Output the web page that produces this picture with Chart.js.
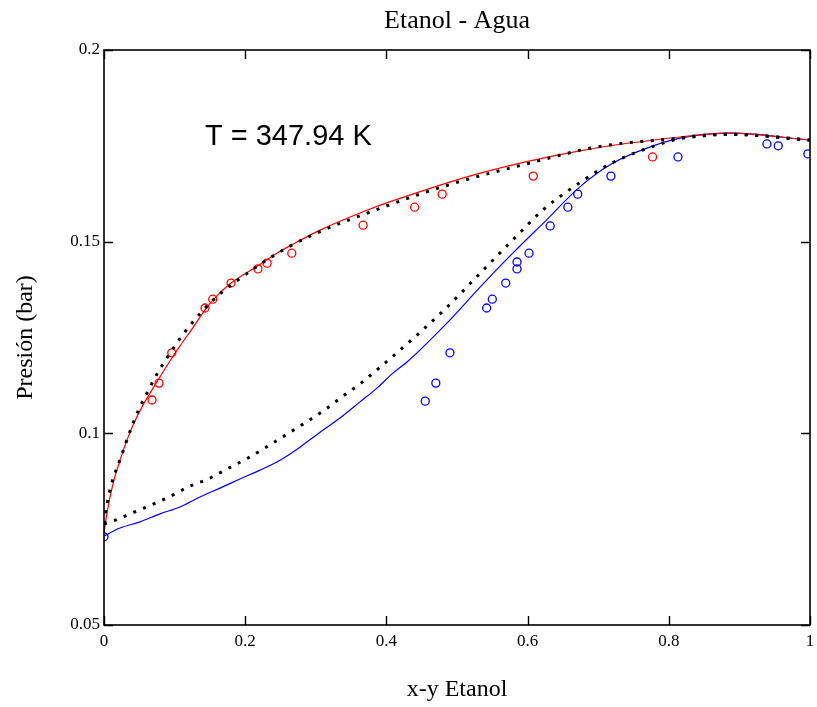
<!DOCTYPE html>
<html>
<head>
<meta charset="utf-8">
<script src="https://cdn.jsdelivr.net/npm/chart.js@4/dist/chart.umd.min.js"></script>
<style>
  html, body { margin: 0; padding: 0; background: #ffffff; }
  #wrap { width: 817px; height: 707px; }
</style>
</head>
<body>
<div id="wrap"><canvas id="c" width="817" height="707"></canvas></div>
<script>
// ---- Data ----
const titleText = "Etanol - Agua";
const xAxisTitle = "x-y Etanol";
const yAxisTitle = "Presión (bar)";
const annotationText = "T = 347.94 K";

const xTicks = [0, 0.2, 0.4, 0.6, 0.8, 1];
const xTickLabels = ["0", "0.2", "0.4", "0.6", "0.8", "1"];
const yTicks = [0.05, 0.1, 0.15, 0.2];
const yTickLabels = ["0.05", "0.1", "0.15", "0.2"];

// Experimental liquid (red circles)
const xLiq = [0.068, 0.078, 0.096, 0.143, 0.154, 0.180, 0.218, 0.231, 0.266, 0.367, 0.440, 0.479, 0.608, 0.777];
const pLiq = [0.1087, 0.1131, 0.1210, 0.1327, 0.1350, 0.1392, 0.1429, 0.1444, 0.1470, 0.1543, 0.1590, 0.1624, 0.1671, 0.1721];

// Experimental vapour (blue circles)
const yVap = [0, 0.455, 0.470, 0.490, 0.542, 0.550, 0.569, 0.585, 0.585, 0.602, 0.632, 0.657, 0.671, 0.718, 0.813, 0.939, 0.955, 0.997];
const pVap = [0.0730, 0.1084, 0.1131, 0.1210, 0.1327, 0.1350, 0.1392, 0.1429, 0.1447, 0.1470, 0.1541, 0.1590, 0.1624, 0.1671, 0.1721, 0.1755, 0.1750, 0.1729];

// Model bubble curve (red line)
const xBub = [0, 0.0042, 0.0127, 0.0227, 0.0326, 0.0425, 0.0538, 0.0652, 0.0765, 0.0907, 0.1076, 0.1246, 0.1431, 0.1544, 0.1799, 0.218, 0.245, 0.2663, 0.306, 0.3669, 0.4065, 0.533, 0.674, 0.816, 0.887, 1];
const pBub = [0.0740, 0.0792, 0.0868, 0.0930, 0.0983, 0.1027, 0.1069, 0.1105, 0.1139, 0.1181, 0.1228, 0.1272, 0.1322, 0.1348, 0.1392, 0.1437, 0.1470, 0.1492, 0.1530, 0.1578, 0.1605, 0.1679, 0.1737, 0.1773, 0.1783, 0.1765];

// Model dew curve (blue line)
const yDew = [0, 0.0227, 0.051, 0.0793, 0.1076, 0.136, 0.1643, 0.1926, 0.221, 0.2493, 0.2776, 0.306, 0.3343, 0.3626, 0.3867, 0.4093, 0.4292, 0.486, 0.533, 0.579, 0.627, 0.674, 0.721, 0.769, 0.816, 0.887, 1];
const pDew = [0.0732, 0.0753, 0.0769, 0.0790, 0.0808, 0.0834, 0.0857, 0.0881, 0.0904, 0.0930, 0.0964, 0.1003, 0.1040, 0.1082, 0.1118, 0.1157, 0.1186, 0.1288, 0.1382, 0.1470, 0.1557, 0.1643, 0.1705, 0.1744, 0.1770, 0.1783, 0.1765];

// Second model, bubble (black dotted, upper)
const xBub2 = [0, 0.0042, 0.0099, 0.0241, 0.0368, 0.0482, 0.0623, 0.0751, 0.0921, 0.1034, 0.122, 0.157, 0.186, 0.266, 0.40, 0.497, 0.603, 0.698, 0.816, 0.887, 1];
const pBub2 = [0.0764, 0.0813, 0.0863, 0.0938, 0.1005, 0.1058, 0.1110, 0.1155, 0.1205, 0.1236, 0.1282, 0.1352, 0.1395, 0.1491, 0.1593, 0.1653, 0.1705, 0.1747, 0.1770, 0.1780, 0.1765];

// Second model, dew (black dotted, lower)
const yDew2 = [0, 0.0127, 0.0397, 0.0666, 0.0921, 0.119, 0.1473, 0.1742, 0.2011, 0.228, 0.255, 0.2819, 0.3102, 0.3371, 0.364, 0.3895, 0.445, 0.483, 0.533, 0.582, 0.622, 0.663, 0.717, 0.783, 0.826, 0.887, 1];
const pDew2 = [0.0764, 0.0771, 0.0792, 0.0813, 0.0834, 0.0860, 0.0881, 0.0907, 0.0933, 0.0962, 0.0993, 0.1024, 0.1058, 0.1095, 0.1131, 0.1170, 0.1259, 0.1324, 0.1418, 0.1510, 0.1583, 0.1640, 0.1703, 0.1752, 0.1773, 0.1780, 0.1765];

// ---- Build ----
const pts = (xs, ys) => xs.map((x, i) => ({ x: x, y: ys[i] }));

const serif = "'Liberation Serif', 'Times New Roman', serif";

const framePlugin = {
  id: 'frameTicks',
  afterDraw(chart) {
    const { ctx, chartArea: a, scales } = chart;
    const xs = scales.x, ys = scales.y;
    ctx.save();
    ctx.strokeStyle = '#000';
    ctx.lineWidth = 1.6;
    ctx.strokeRect(a.left, a.top, a.right - a.left, a.bottom - a.top);
    const L = 9;
    ctx.lineWidth = 1.4;
    ctx.beginPath();
    xTicks.forEach(v => {
      const px = Math.round(xs.getPixelForValue(v)) + 0.5;
      ctx.moveTo(px, a.bottom); ctx.lineTo(px, a.bottom - L);
      ctx.moveTo(px, a.top); ctx.lineTo(px, a.top + L);
    });
    yTicks.forEach(v => {
      const py = Math.round(ys.getPixelForValue(v)) + 0.5;
      ctx.moveTo(a.left, py); ctx.lineTo(a.left + L, py);
      ctx.moveTo(a.right, py); ctx.lineTo(a.right - L, py);
    });
    ctx.stroke();
    // annotation
    ctx.fillStyle = '#000';
    ctx.font = "29px 'Liberation Sans', Arial, sans-serif";
    ctx.textAlign = 'left';
    ctx.textBaseline = 'alphabetic';
    ctx.fillText(annotationText, xs.getPixelForValue(0.143), ys.getPixelForValue(0.1753));
    ctx.restore();
  }
};

const lineDs = (label, data, color, dash, width) => ({
  label, data,
  showLine: true,
  borderColor: color,
  backgroundColor: color,
  borderWidth: width,
  borderDash: dash,
  borderCapStyle: 'butt',
  pointRadius: 0,
  pointHoverRadius: 0,
  cubicInterpolationMode: 'monotone',
  fill: false
});

const pointDs = (label, data, color) => ({
  label, data,
  showLine: false,
  borderColor: color,
  backgroundColor: 'rgba(0,0,0,0)',
  pointStyle: 'circle',
  pointRadius: 4,
  pointBorderWidth: 1.3,
  pointHoverRadius: 4
});

new Chart(document.getElementById('c'), {
  type: 'scatter',
  data: {
    datasets: [
      lineDs('Modelo 2 burbuja', pts(xBub2, pBub2), '#000000', [3, 7.5], 3),
      lineDs('Modelo 2 rocío', pts(yDew2, pDew2), '#000000', [3, 7.5], 3),
      lineDs('Burbuja', pts(xBub, pBub), '#ff0000', [], 1.2),
      lineDs('Rocío', pts(yDew, pDew), '#0000ff', [], 1.2),
      pointDs('x exp', pts(xLiq, pLiq), '#ff0000'),
      pointDs('y exp', pts(yVap, pVap), '#0000ff')
    ]
  },
  options: {
    responsive: false,
    animation: false,
    layout: { padding: { left: 0, right: 7, top: 0, bottom: 0 } },
    plugins: {
      legend: { display: false },
      tooltip: { enabled: false },
      title: {
        display: true,
        text: titleText,
        fullSize: false,
        color: '#000',
        font: { family: serif, size: 26, weight: 'normal' },
        padding: { top: 5.5, bottom: 13.3 }
      }
    },
    scales: {
      x: {
        type: 'linear',
        min: 0, max: 1,
        grid: { display: false, drawTicks: false },
        border: { display: false },
        afterBuildTicks: s => { s.ticks = xTicks.map(v => ({ value: v })); },
        afterFit: s => { s.height = 82; s.paddingLeft = 0; s.paddingRight = 0; },
        ticks: {
          color: '#000',
          font: { family: serif, size: 17 },
          padding: 6,
          maxRotation: 0,
          autoSkip: false,
          callback: (v) => { const i = xTicks.indexOf(v); return i >= 0 ? xTickLabels[i] : ''; }
        },
        title: {
          display: true,
          text: xAxisTitle,
          color: '#000',
          font: { family: serif, size: 24 },
          padding: { top: 0, bottom: 3 }
        }
      },
      y: {
        type: 'linear',
        min: 0.05, max: 0.2,
        grid: { display: false, drawTicks: false },
        border: { display: false },
        afterBuildTicks: s => { s.ticks = yTicks.map(v => ({ value: v })); },
        afterFit: s => { s.width = 104; s.paddingTop = 0; s.paddingBottom = 0; },
        ticks: {
          color: '#000',
          font: { family: serif, size: 17 },
          padding: 4,
          autoSkip: false,
          callback: (v) => { const i = yTicks.indexOf(v); return i >= 0 ? yTickLabels[i] : ''; }
        },
        title: {
          display: true,
          text: yAxisTitle,
          color: '#000',
          font: { family: serif, size: 24 },
          padding: { top: 11, bottom: 0 }
        }
      }
    }
  },
  plugins: [framePlugin]
});
</script>
</body>
</html>
